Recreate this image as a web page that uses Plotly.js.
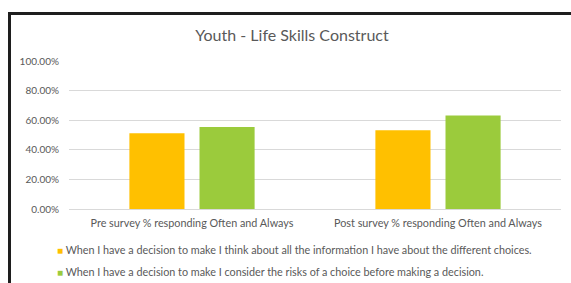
<!DOCTYPE html>
<html><head><meta charset="utf-8">
<script src="https://cdn.plot.ly/plotly-3.0.1.min.js"></script>
<style>
html,body{margin:0;padding:0;background:#fff;}
#wrap{position:relative;width:571px;height:283px;overflow:hidden;}
#chart{width:571px;height:283px;}
#frame{position:absolute;left:8px;top:12px;width:620px;height:320px;border:3px solid #1e1e1e;pointer-events:none;}
</style></head>
<body><div id="wrap"><div id="chart"></div><div id="frame"></div></div>
<script>
const categories = ["Pre survey % responding Often and Always", "Post survey % responding Often and Always"];
const seriesNames = [
  "When I have a decision to make I think about all the information I have about the different choices.",
  "When I have a decision to make I consider the risks of a choice before making a decision."
];
const thinkAboutInfo = [0.512, 0.532];
const considerRisks = [0.554, 0.631];
const tickVals = [0, 0.2, 0.4, 0.6, 0.8, 1.0];
const tickText = ["0.00%", "20.00%", "40.00%", "60.00%", "80.00%", "100.00%"];
const colors = ["#FFC000", "#9BCB3C"];

const fontFam = "Lato, 'Open Sans', sans-serif";
const W = 571, H = 283, ML = 69, MR = 10, MT = 61, MB = 74;
const data = [
  {type:"bar", name:seriesNames[0], x:categories, y:thinkAboutInfo, marker:{color:colors[0]}, hoverinfo:"none"},
  {type:"bar", name:seriesNames[1], x:categories, y:considerRisks, marker:{color:colors[1]}, hoverinfo:"none"}
];
const legendY = [249.5, 271];
const annotations = seriesNames.map((n, i) => ({
  xref:"paper", yref:"paper", x:(55 - ML) / (W - ML - MR), xanchor:"left",
  y:(H - MB - legendY[i]) / (H - MT - MB), yanchor:"middle",
  showarrow:false, align:"left",
  text:'<span style="color:' + colors[i] + ';font-size:10px">■</span> ' + n,
  font:{size:10.8, color:"#595959", family:fontFam}
}));
const layout = {
  width:W, height:H,
  margin:{l:ML, r:MR, t:MT, b:MB, autoexpand:false},
  paper_bgcolor:"#fff", plot_bgcolor:"#fff",
  font:{family:fontFam, color:"#595959", size:10},
  title:{text:"Youth - Life Skills Construct", font:{family:fontFam, size:16, color:"#595959"}, xref:"container", yref:"container", x:292/W, xanchor:"center", y:(H-35)/H, yanchor:"middle"},
  barmode:"group", bargap:0.43, bargroupgap:0.214,
  xaxis:{showgrid:false, showline:false, zeroline:false, ticks:"", ticklabelstandoff:6, tickfont:{size:10.8, color:"#595959"}, tickangle:0, fixedrange:true},
  yaxis:{range:[0,1], tickvals:tickVals, ticktext:tickText, showgrid:true, gridcolor:"#D9D9D9", gridwidth:1, zeroline:true, zerolinecolor:"#D9D9D9", showline:false, ticks:"", ticklen:0, ticklabelstandoff:9, tickfont:{size:10, color:"#595959"}, fixedrange:true},
  showlegend:false,
  annotations:annotations
};
Plotly.newPlot("chart", data, layout, {staticPlot:true, displayModeBar:false});
</script></body></html>
